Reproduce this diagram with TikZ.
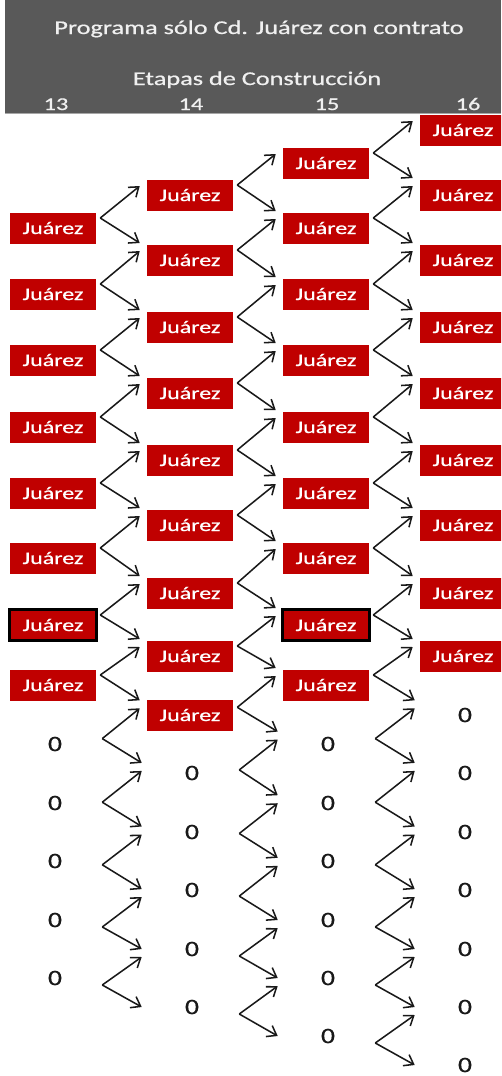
\documentclass[tikz,border=0pt]{standalone}
\usepackage{fontspec}
\usepackage{graphicx}
\setmainfont[Numbers=Lining,FakeBold=0.6,AutoFakeBold=0.6]{Carlito}
\usetikzlibrary{arrows.meta,calc}
\definecolor{jred}{RGB}{192,0,0}
\definecolor{hdrgray}{RGB}{89,89,89}
\definecolor{hdrtext}{RGB}{240,240,240}
\definecolor{zerotext}{RGB}{25,25,25}
\begin{document}
\begin{tikzpicture}[x=0.75pt,y=-0.75pt,
  jbox/.style={fill=jred, text=white, minimum width=64.5pt, minimum height=23.25pt, inner sep=0pt, font=\fontsize{13.3}{15}\selectfont},
  zbox/.style={minimum width=64.5pt, minimum height=23.25pt, inner sep=0pt, text=zerotext, font=\fontsize{16.5}{18}\selectfont},
  hl/.style={draw=black, line width=2.2pt},
  arr/.style={draw=black!90, line width=1.15pt, -{Straight Barb[length=6.5pt,width=9.5pt]}},
  hdr/.style={text=hdrtext, font=\fontsize{14.6}{17}\selectfont, anchor=base, inner sep=0pt},
  declare function={dd(\l)=ifthenelse(\l<17.5,-10,min(7,-10+(\l-17)*2.3));}]
\clip (0,0) rectangle (501,1076);
\fill[white] (0,0) rectangle (501,1076);
\fill[hdrgray] (5,0) rectangle (501,113);
\draw[gray!70, line width=0.8pt] (5,113.5) -- (501,113.5);
\node[hdr] (title) at (259,34) {\scalebox{1.35}[1]{Programa sólo Cd. Juárez con contrato}};
\node[hdr] (sub) at (257,85) {\scalebox{1.35}[1]{Etapas de Construcción}};
\node[hdr, font=\fontsize{13.5}{15}\selectfont] (h13) at (56,110) {\scalebox{1.35}[1]{13}};
\node[hdr, font=\fontsize{13.5}{15}\selectfont] (h14) at (191,110) {\scalebox{1.35}[1]{14}};
\node[hdr, font=\fontsize{13.5}{15}\selectfont] (h15) at (327,110) {\scalebox{1.35}[1]{15}};
\node[hdr, font=\fontsize{13.5}{15}\selectfont] (h16) at (468,110) {\scalebox{1.35}[1]{16}};
\def\levels{{130,163,195,228,260,294,327,360,393,427,460,493,525,558,593,625,656,685,715,744,773,803,832,861,890,920,949,978,1007,1036,1065}}
\foreach \c/\cx/\off/\n/\nj in {13/53/3/12/7, 14/190/2/13/8, 15/326/1/14/8, 16/463/0/15/8} {
  \foreach \i in {0,...,\n} {
    \pgfmathtruncatemacro\L{2*\i+\off}
    \pgfmathsetmacro\yy{\levels[\L]}
    \ifnum\i>\nj
      \node[zbox] (n\c-\i) at (\cx+2,\yy) {\scalebox{1.25}[1]{0}};
    \else
      \node[jbox] (n\c-\i) at (\cx,\yy) {\scalebox{1.35}[1]{Juárez}};
    \fi
  }
}
\draw[hl] (n13-6.south west) rectangle (n13-6.north east);
\draw[hl] (n15-7.south west) rectangle (n15-7.north east);
\foreach \c/\nc/\off/\n in {13/14/3/12, 14/15/2/13, 15/16/1/14} {
  \foreach \i in {0,...,\n} {
    \pgfmathtruncatemacro\j{\i+1}
    \pgfmathtruncatemacro\Ls{2*\i+\off}
    \pgfmathsetmacro\da{dd(\Ls)}
    \pgfmathsetmacro\du{dd(\Ls-1)+1}
    \pgfmathsetmacro\dw{dd(\Ls+1)-7}
    \draw[arr] ($(n\c-\i.east)+(4,\da)$) -- ($(n\nc-\i.west)+(-7,\du)$);
    \draw[arr] ($(n\c-\i.east)+(4,\da)$) -- ($(n\nc-\j.west)+(-7,\dw)$);
  }
}
\end{tikzpicture}
\end{document}
